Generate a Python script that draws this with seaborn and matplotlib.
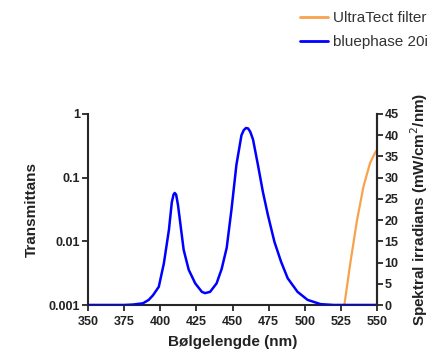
import numpy as np
import pandas as pd
import matplotlib
matplotlib.use("Agg")
import matplotlib.pyplot as plt
import seaborn as sns

sns.set_style("ticks")
plt.rcParams['font.family'] = ['Liberation Sans', 'DejaVu Sans']

# Data
blue_nm = [350, 375, 381, 388, 392, 395, 399, 402.5, 406, 408, 409.2, 410, 411, 412.3, 413.9,
           416.2, 419.7, 424.2, 428.8, 431, 434.5, 439, 442.5, 446, 449.3, 452.7,
           456.2, 457.8, 459.3, 460.8, 462.3, 464.2, 467.6, 471, 474.5, 479, 483.6, 488.2,
           495, 502, 511, 520, 525, 550]
blue_irr = [0, 0, 0.1, 0.4, 1.2, 2.3, 4.3, 9.8, 17.7, 24.2, 26.0, 26.4, 26.0, 23.5, 19.2,
            13.0, 8.3, 5.1, 3.1, 2.8, 3.1, 5.1, 8.5, 13.5, 22.5, 33.0,
            40.0, 41.2, 41.7, 41.6, 40.8, 39.0, 33.0, 26.7, 21.2, 14.9, 10.2, 6.3,
            3.1, 1.2, 0.2, 0.0, 0.0, 0.0]
orange_nm = [527.4, 531.5, 536.1, 540.6, 545.2, 548.6, 550]
orange_T = [0.001, 0.0045, 0.021, 0.072, 0.17, 0.245, 0.27]

x_ticks = [350, 375, 400, 425, 450, 475, 500, 525, 550]
y_left_ticks = [0.001, 0.01, 0.1, 1]
y_left_labels = ["0.001", "0.01", "0.1", "1"]
y_right_ticks = list(range(0, 50, 5))

df_blue = pd.DataFrame({"nm": blue_nm, "irr": blue_irr})
df_or = pd.DataFrame({"nm": orange_nm, "T": orange_T})

fig = plt.figure(figsize=(4.31, 3.6), dpi=100)
ax = fig.add_axes([88/431, 55/360, 289/431, 191/360])
ax2 = ax.twinx()

orange = "#F9A24C"
blue = "#0000FF"

sns.lineplot(data=df_or, x="nm", y="T", ax=ax, color=orange, lw=1.6, legend=False)
sns.lineplot(data=df_blue, x="nm", y="irr", ax=ax2, color=blue, lw=1.8, legend=False)

ax.set_yscale("log")
ax.set_ylim(0.001, 1)
ax.set_xlim(350, 550)
ax2.set_ylim(0, 45)
ax.set_xticks(x_ticks)
ax.set_xticklabels([str(t) for t in x_ticks])
ax.set_yticks(y_left_ticks)
ax.set_yticklabels(y_left_labels)
ax.yaxis.set_minor_locator(matplotlib.ticker.NullLocator())
ax2.set_yticks(y_right_ticks)
ax2.set_yticklabels([str(t) for t in y_right_ticks])

for a in (ax, ax2):
    a.spines['top'].set_visible(False)
    for s in a.spines.values():
        s.set_linewidth(1.5)
    a.tick_params(width=1.3, length=4, labelsize=9, direction='out', pad=1.5)
    for lbl in a.get_xticklabels() + a.get_yticklabels():
        lbl.set_fontweight('bold')
        lbl.set_color('#222222')
ax.tick_params(axis='x', pad=4)
ax2.spines['left'].set_visible(False)
ax2.spines['bottom'].set_visible(False)

ax.set_xlabel("Bølgelengde (nm)", fontsize=11, fontweight='bold', labelpad=5, color='#222222')
ax.set_ylabel("Transmittans", fontsize=11, fontweight='bold', labelpad=7, color='#222222')
ax2.set_ylabel("Spektral irradians (mW/cm$^2$/nm)", fontsize=11, fontweight='bold', labelpad=7, color='#222222')

handles = [plt.Line2D([], [], color=orange, lw=2), plt.Line2D([], [], color=blue, lw=2)]
fig.legend(handles, ["UltraTect filter", "bluephase 20i"], loc='upper left',
           bbox_to_anchor=(300/431, 1 - 11/360), frameon=False, fontsize=11,
           handlelength=1.8, handletextpad=0.35, labelspacing=0.65,
           borderaxespad=0, borderpad=0, labelcolor='#333333')

fig.savefig("out.png", dpi=100)
